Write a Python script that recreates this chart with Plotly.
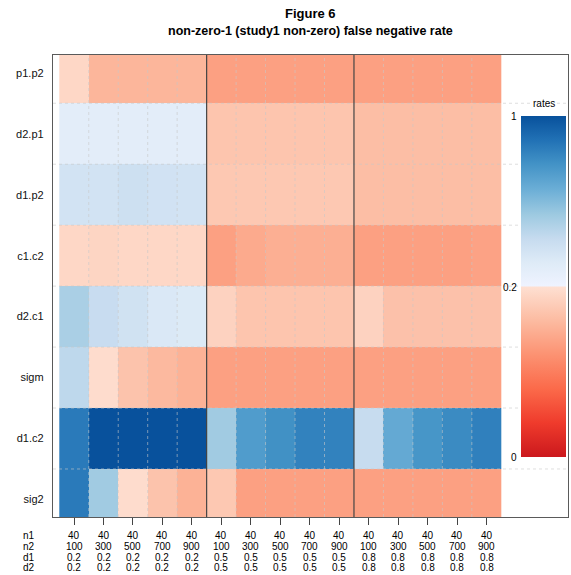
import plotly.graph_objects as go

# ---------------- data ----------------
rows = ["p1.p2", "d2.p1", "d1.p2", "c1.c2", "d2.c1", "sigm", "d1.c2", "sig2"]
n1 = [40] * 15
n2 = [100, 300, 500, 700, 900] * 3
d1 = [0.2] * 5 + [0.5] * 5 + [0.8] * 5
d2 = [0.2] * 5 + [0.5] * 5 + [0.8] * 5

r_p1p2 = [0.190, 0.155, 0.155, 0.155, 0.155, 0.134, 0.134, 0.134, 0.134, 0.134, 0.134, 0.134, 0.134, 0.134, 0.134]
r_d2p1 = [0.280, 0.280, 0.280, 0.280, 0.280, 0.171, 0.171, 0.171, 0.171, 0.171, 0.163, 0.163, 0.163, 0.163, 0.163]
r_d1p2 = [0.368, 0.368, 0.392, 0.375, 0.368, 0.174, 0.174, 0.174, 0.174, 0.174, 0.163, 0.163, 0.163, 0.163, 0.163]
r_c1c2 = [0.190, 0.188, 0.190, 0.190, 0.190, 0.134, 0.143, 0.148, 0.148, 0.148, 0.134, 0.134, 0.134, 0.134, 0.136]
r_d2c1 = [0.502, 0.416, 0.376, 0.331, 0.320, 0.185, 0.171, 0.171, 0.171, 0.171, 0.185, 0.167, 0.167, 0.167, 0.167]
r_sigm = [0.446, 0.196, 0.169, 0.158, 0.151, 0.134, 0.134, 0.134, 0.134, 0.134, 0.134, 0.134, 0.134, 0.134, 0.134]
r_d1c2 = [0.858, 1.000, 1.000, 1.000, 1.000, 0.528, 0.734, 0.780, 0.830, 0.830, 0.420, 0.677, 0.760, 0.800, 0.837]
r_sig2 = [0.858, 0.528, 0.196, 0.169, 0.151, 0.174, 0.134, 0.134, 0.134, 0.134, 0.134, 0.134, 0.134, 0.134, 0.134]
rates = [r_p1p2, r_d2p1, r_d1p2, r_c1c2, r_d2c1, r_sigm, r_d1c2, r_sig2]

cb_ticks = [0, 0.2, 1]
cb_ticklabels = ["0", "0.2", "1"]

# ------------- colour mapping: 0..0.2 -> lower half, 0.2..1 -> upper half -------------
def pos(v):
    return v / 0.2 * 0.5 if v <= 0.2 else 0.5 + (v - 0.2) / 0.8 * 0.5

z = [[pos(v) for v in r] for r in rates]

colorscale = [
    [0.00, "#CB181D"], [0.10, "#EF3B2C"], [0.20, "#FB6A4A"], [0.30, "#FC9272"],
    [0.40, "#FCBBA1"], [0.4999, "#FEE0D2"],
    [0.5001, "#EFF3FF"], [0.57, "#DEEBF7"], [0.64, "#C6DBEF"], [0.71, "#9ECAE1"],
    [0.785, "#6BAED6"], [0.86, "#4292C6"], [0.93, "#2171B5"], [1.00, "#08519C"],
]

# ------------- geometry (pixels) -------------
W, H = 571, 575
ML, MR, MT, MB = 53, 3, 55, 58
PW, PH = W - ML - MR, H - MT - MB

def px_x(p):
    return (p - ML) / PW

def px_y(p):
    return (H - MB - p) / PH

cb_top, cb_bot, cb_left, cb_right = 116.7, 457.3, 521, 566
cb_len = cb_bot - cb_top

ncol, nrow = len(n2), len(rows)
font = "Liberation Sans, Arial, Helvetica, sans-serif"

fig = go.Figure()
fig.add_trace(go.Heatmap(
    z=z, x=list(range(ncol)), y=list(range(nrow)),
    zmin=0, zmax=1, colorscale=colorscale, hoverinfo="skip",
    colorbar=dict(
        thicknessmode="pixels", thickness=cb_right - cb_left,
        lenmode="pixels", len=cb_len,
        x=px_x(cb_left), xanchor="left",
        y=px_y((cb_top + cb_bot) / 2), yanchor="middle",
        xpad=0, ypad=0, outlinewidth=0,
        showticklabels=False, ticks="",
    ),
))

grid_style = dict(color="rgba(200,200,200,0.75)", width=0.8, dash="dot")
shapes = []
# dotted grid
for i in range(nrow - 1):
    shapes.append(dict(type="line", xref="paper", yref="y", x0=0, x1=1, y0=i + 0.5, y1=i + 0.5,
                       line=grid_style, layer="above"))
for j in range(ncol - 1):
    if j in (4, 9):
        continue
    shapes.append(dict(type="line", xref="x", yref="paper", x0=j + 0.5, x1=j + 0.5, y0=0, y1=1,
                       line=grid_style, layer="above"))
# group separators
for j in (4, 9):
    shapes.append(dict(type="line", xref="x", yref="paper", x0=j + 0.5, x1=j + 0.5, y0=0, y1=1,
                       line=dict(color="#444444", width=1.2), layer="above"))

annotations = []
# titles
annotations.append(dict(text="<b>Figure 6</b>", xref="paper", yref="paper", x=0.5, y=px_y(14),
                        showarrow=False, xanchor="center", yanchor="middle",
                        font=dict(family=font, size=13, color="#000")))
annotations.append(dict(text="<b>non-zero-1 (study1 non-zero) false negative rate</b>", xref="paper",
                        yref="paper", x=0.5, y=px_y(31), showarrow=False, xanchor="center",
                        yanchor="middle", font=dict(family=font, size=12.5, color="#000")))
# x labels, 4 lines
line_y = [535.5, 546.5, 557.3, 567.8]
names = ["n1", "n2", "d1", "d2"]
vals = [n1, n2, d1, d2]
for k in range(4):
    annotations.append(dict(text=names[k], xref="paper", yref="paper", x=px_x(21), y=px_y(line_y[k]),
                            showarrow=False, xanchor="left", yanchor="middle",
                            font=dict(family=font, size=10, color="#000")))
    for j in range(ncol):
        annotations.append(dict(text=str(vals[k][j]), xref="x", yref="paper", x=j, y=px_y(line_y[k]),
                                showarrow=False, xanchor="center", yanchor="middle",
                                font=dict(family=font, size=10, color="#000")))
# colorbar labels
for v, t in zip(cb_ticks, cb_ticklabels):
    py = cb_bot - pos(v) * cb_len
    annotations.append(dict(text=t, xref="paper", yref="paper", x=px_x(518.5), y=px_y(py),
                            showarrow=False, xanchor="right", yanchor="middle",
                            font=dict(family=font, size=10, color="#000")))
annotations.append(dict(text="rates", xref="paper", yref="paper", x=px_x((cb_left + cb_right) / 2),
                        y=px_y(103.5), showarrow=False, xanchor="center", yanchor="middle",
                        bgcolor="white", borderpad=0,
                        font=dict(family=font, size=10, color="#000")))

# axis ranges from pixel geometry
cell_left, cell_right = 59.3, 501.3
cw = (cell_right - cell_left) / ncol
x0 = -0.5 - (cell_left - ML) / cw
x1 = ncol - 0.5 + (W - MR - cell_right) / cw
row0_center, rh = 72.8, 60.95
y_top = -(row0_center - MT) / rh
y_bot = (H - MB - row0_center) / rh

fig.update_layout(
    width=W, height=H, margin=dict(l=ML, r=MR, t=MT, b=MB),
    paper_bgcolor="white", plot_bgcolor="white",
    shapes=shapes, annotations=annotations, showlegend=False,
    xaxis=dict(range=[x0, x1], tickvals=list(range(ncol)), showticklabels=False,
               ticks="outside", ticklen=7, tickcolor="#444", tickwidth=1,
               showgrid=False, zeroline=False, showline=True, mirror=True,
               linecolor="#5a5a5a", linewidth=1.3),
    yaxis=dict(range=[y_bot, y_top], tickvals=list(range(nrow)), ticktext=rows,
               ticks="outside", ticklen=6, tickcolor="rgba(0,0,0,0)",
               tickfont=dict(family=font, size=11, color="#111"),
               showgrid=False, zeroline=False, showline=True, mirror=True,
               linecolor="#5a5a5a", linewidth=1.3),
)

fig.write_html("out.html")
